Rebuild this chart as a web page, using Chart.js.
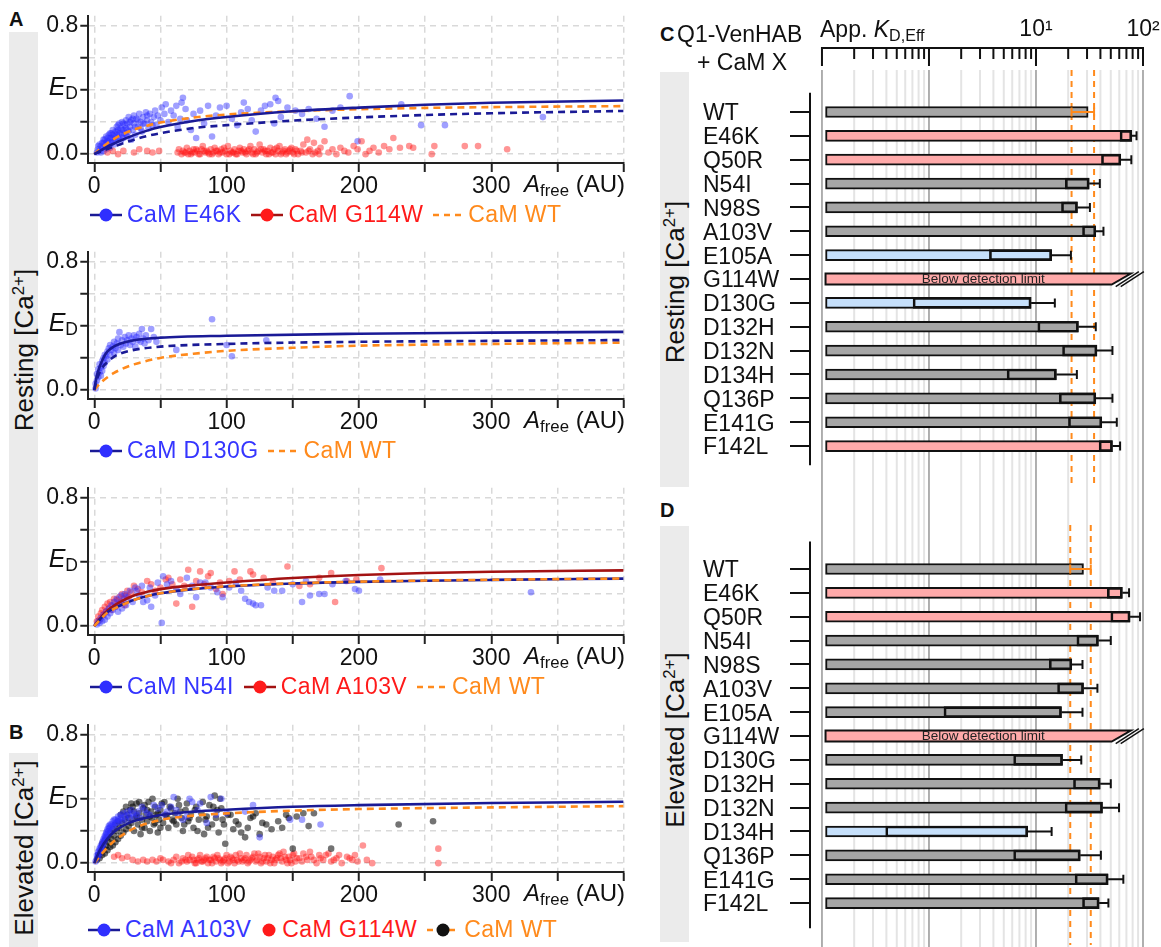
<!DOCTYPE html>
<html>
<head>
<title>CaM mutants - Q1-VenHAB FRET binding</title>
<script src="https://cdn.jsdelivr.net/npm/chart.js"></script>
<style>
  body { margin: 0; background: #fff; }
  #fig { position: relative; width: 1161px; height: 947px; overflow: hidden; background: #fff;
         font-family: 'Liberation Sans', Arial, sans-serif; color: #111; }
  canvas { position: absolute; }
  .t { position: absolute; white-space: nowrap; line-height: 1; }
  .band { position: absolute; background: #ebebeb; }
  .rot { position: absolute; white-space: nowrap; font-size: 26px; line-height: 1;
         transform: translate(-50%, -50%) rotate(-90deg); }
  .pl { position: absolute; font-weight: bold; font-size: 20px; }
  .lg { position: absolute; display: flex; align-items: center; font-size: 23px; letter-spacing: 0.4px;
        line-height: 1; white-space: nowrap; }
  .lg svg { margin-right: 5px; }
  .lg span { margin-right: 10px; }
  sub { font-size: 70%; vertical-align: -0.25em; }
  sup { font-size: 65%; vertical-align: 0.55em; }
</style>
</head>
<body>
<div id="fig">
  <!-- grey side bands -->
  <div class="band" style="left:9px;top:32px;width:29px;height:665px"></div>
  <div class="band" style="left:9px;top:753px;width:29px;height:194px"></div>
  <div class="band" style="left:660px;top:72px;width:29px;height:415px"></div>
  <div class="band" style="left:660px;top:526px;width:29px;height:416px"></div>
  <div class="rot" style="left:24px;top:350px">Resting [Ca<sup>2+</sup>]</div>
  <div class="rot" style="left:24px;top:848px">Elevated [Ca<sup>2+</sup>]</div>
  <div class="rot" style="left:675px;top:282px">Resting [Ca<sup>2+</sup>]</div>
  <div class="rot" style="left:675px;top:740px">Elevated [Ca<sup>2+</sup>]</div>

  <div class="pl" style="left:9px;top:8px">A</div>
  <div class="pl" style="left:9px;top:721px">B</div>
  <div class="pl" style="left:660px;top:23px">C</div>
  <div class="pl" style="left:660px;top:499px">D</div>

  <canvas id="a1" width="640" height="205" style="left:0;top:0"></canvas>
  <canvas id="a2" width="640" height="205" style="left:0;top:236px"></canvas>
  <canvas id="a3" width="640" height="205" style="left:0;top:472px"></canvas>
  <canvas id="b1" width="640" height="205" style="left:0;top:709px"></canvas>
  <canvas id="kdRest" width="511" height="490" style="left:650px;top:0"></canvas>
  <canvas id="kdElev" width="511" height="457" style="left:650px;top:490px"></canvas>

  <!-- y label E_D and x title for each scatter panel -->
  <div class="t" style="right:1083px;top:74px;font-size:25px"><i>E</i><sub>D</sub></div>
  <div class="t" style="right:1083px;top:310px;font-size:25px"><i>E</i><sub>D</sub></div>
  <div class="t" style="right:1083px;top:546px;font-size:25px"><i>E</i><sub>D</sub></div>
  <div class="t" style="right:1083px;top:783px;font-size:25px"><i>E</i><sub>D</sub></div>
  <div class="t" style="right:536px;top:172px;font-size:24px"><i>A</i><sub>free</sub> (AU)</div>
  <div class="t" style="right:536px;top:408px;font-size:24px"><i>A</i><sub>free</sub> (AU)</div>
  <div class="t" style="right:536px;top:644px;font-size:24px"><i>A</i><sub>free</sub> (AU)</div>
  <div class="t" style="right:536px;top:881px;font-size:24px"><i>A</i><sub>free</sub> (AU)</div>

  <!-- legends -->
  <div class="lg" style="left:90px;top:203px">
    <svg width="32" height="16"><line x1="0" y1="8" x2="32" y2="8" stroke="#1a1a96" stroke-width="2.5"/><circle cx="16" cy="8" r="6.5" fill="#2f2fff"/></svg><span style="color:#3535ff">CaM E46K</span>
    <svg width="32" height="16"><line x1="0" y1="8" x2="32" y2="8" stroke="#a31212" stroke-width="2.5"/><circle cx="16" cy="8" r="6.5" fill="#ff1a1a"/></svg><span style="color:#ff1a1a">CaM G114W</span>
    <svg width="30" height="16"><line x1="0" y1="8" x2="30" y2="8" stroke="#ff8a1c" stroke-width="2.5" stroke-dasharray="6 5"/></svg><span style="color:#ff8a1c">CaM WT</span>
  </div>
  <div class="lg" style="left:90px;top:439px">
    <svg width="32" height="16"><line x1="0" y1="8" x2="32" y2="8" stroke="#1a1a96" stroke-width="2.5"/><circle cx="16" cy="8" r="6.5" fill="#2f2fff"/></svg><span style="color:#3535ff">CaM D130G</span>
    <svg width="30" height="16"><line x1="0" y1="8" x2="30" y2="8" stroke="#ff8a1c" stroke-width="2.5" stroke-dasharray="6 5"/></svg><span style="color:#ff8a1c">CaM WT</span>
  </div>
  <div class="lg" style="left:90px;top:675px">
    <svg width="32" height="16"><line x1="0" y1="8" x2="32" y2="8" stroke="#1a1a96" stroke-width="2.5"/><circle cx="16" cy="8" r="6.5" fill="#2f2fff"/></svg><span style="color:#3535ff">CaM N54I</span>
    <svg width="32" height="16"><line x1="0" y1="8" x2="32" y2="8" stroke="#a31212" stroke-width="2.5"/><circle cx="16" cy="8" r="6.5" fill="#ff1a1a"/></svg><span style="color:#ff1a1a">CaM A103V</span>
    <svg width="30" height="16"><line x1="0" y1="8" x2="30" y2="8" stroke="#ff8a1c" stroke-width="2.5" stroke-dasharray="6 5"/></svg><span style="color:#ff8a1c">CaM WT</span>
  </div>
  <div class="lg" style="left:88px;top:918px">
    <svg width="32" height="16"><line x1="0" y1="8" x2="32" y2="8" stroke="#1a1a96" stroke-width="2.5"/><circle cx="16" cy="8" r="6.5" fill="#2f2fff"/></svg><span style="color:#3535ff">CaM A103V</span>
    <svg width="16" height="16"><circle cx="8" cy="8" r="6.5" fill="#ff1a1a"/></svg><span style="color:#ff1a1a">CaM G114W</span>
    <svg width="32" height="16"><line x1="0" y1="8" x2="32" y2="8" stroke="#ff8a1c" stroke-width="2.5" stroke-dasharray="6 5"/><circle cx="16" cy="8" r="6.5" fill="#111"/></svg><span style="color:#ff8a1c">CaM WT</span>
  </div>

  <!-- right panel header -->
  <div class="t" style="left:677px;top:23px;font-size:23px">Q1-VenHAB</div>
  <div class="t" style="left:697px;top:51px;font-size:23px">+ CaM X</div>
  <div class="t" style="left:820px;top:18px;font-size:23px">App. <i>K</i><sub>D,Eff</sub></div>
</div>

<script>
// ---------- scatter panels: [A_free, E_D] ----------
const a1E46K = [[2,0.01],[3,0.03],[3,0.05],[4,0.02],[4,0.06],[5,0.05],[5,0.01],[6,0.04],[6,0.07],[7,0.07],[7,0.02],[7,0.09],[8,0.05],[8,0.09],[9,0.03],[9,0.07],[9,0.11],[10,0.1],[10,0.05],[10,0.08],[11,0.08],[11,0.12],[11,0.06],[12,0.04],[12,0.1],[12,0.13],[13,0.07],[13,0.13],[13,0.1],[14,0.09],[14,0.15],[14,0.12],[15,0.06],[15,0.11],[16,0.14],[16,0.08],[16,0.1],[17,0.12],[17,0.17],[17,0.14],[18,0.1],[18,0.15],[18,0.18],[19,0.13],[19,0.19],[19,0.11],[20,0.08],[20,0.16],[21,0.12],[21,0.2],[21,0.15],[22,0.15],[22,0.1],[22,0.19],[23,0.18],[23,0.13],[24,0.21],[24,0.16],[24,0.12],[25,0.11],[25,0.19],[25,0.15],[26,0.23],[26,0.14],[27,0.17],[27,0.2],[28,0.21],[28,0.09],[29,0.15],[29,0.22],[30,0.24],[30,0.19],[31,0.12],[31,0.17],[32,0.22],[33,0.17],[33,0.21],[34,0.25],[35,0.2],[35,0.16],[36,0.14],[37,0.23],[37,0.19],[38,0.19],[39,0.26],[40,0.21],[40,0.24],[41,0.16],[42,0.25],[43,0.2],[44,0.18],[45,0.23],[46,0.27],[47,0.18],[48,0.24],[50,0.21],[51,0.29],[53,0.25],[54,0.31],[56,0.2],[58,0.27],[60,0.24],[62,0.3],[63,0.17],[65,0.22],[66,0.32],[67,0.35],[69,0.28],[70,0.21],[73,0.15],[75,0.25],[77,0.1],[80,0.27],[83,0.19],[86,0.3],[89,0.11],[92,0.24],[95,0.29],[100,0.3],[104,0.22],[108,0.18],[111,0.26],[113,0.32],[116,0.28],[119,0.21],[122,0.14],[126,0.27],[129,0.3],[133,0.31],[136,0.19],[137,0.35],[139,0.33],[141,0.23],[146,0.29],[152,0.27],[157,0.25],[162,0.28],[168,0.22],[174,0.17],[180,0.27],[186,0.29],[193,0.36],[199,0.08],[232,0.31],[247,0.18],[265,0.18],[339,0.23]];
const a1G114W = [[10,0.01],[14,0.02],[18,0.0],[22,0.02],[30,0.01],[34,0.03],[40,0.02],[44,0.01],[49,0.02],[63,0.01],[64,0.03],[66,0.0],[67,0.02],[68,0.01],[69,0.01],[70,0.04],[71,0.0],[72,0.02],[73,0.0],[74,0.01],[75,0.03],[76,0.01],[77,0.03],[78,0.02],[79,0.0],[80,0.0],[81,0.03],[82,0.05],[83,0.02],[84,0.01],[85,0.02],[86,0.01],[87,0.0],[88,0.03],[89,0.0],[90,0.01],[91,0.04],[92,0.02],[93,0.02],[94,0.0],[95,0.01],[96,0.03],[97,0.01],[98,0.04],[99,0.02],[100,0.0],[101,0.05],[102,0.0],[103,0.02],[104,0.01],[105,0.01],[106,0.03],[107,0.0],[108,0.0],[109,0.02],[110,0.04],[111,0.02],[112,0.01],[113,0.03],[114,0.01],[115,0.0],[116,0.02],[117,0.03],[118,0.05],[119,0.01],[120,0.0],[121,0.03],[122,0.0],[123,0.01],[124,0.02],[125,0.06],[126,0.03],[127,0.01],[128,0.03],[129,0.02],[130,0.0],[131,0.02],[132,0.0],[133,0.04],[134,0.01],[135,0.01],[136,0.03],[137,0.0],[138,0.04],[139,0.02],[140,0.05],[141,0.0],[142,0.01],[143,0.02],[144,0.03],[145,0.0],[146,0.01],[147,0.02],[148,0.03],[149,0.04],[150,0.01],[151,0.0],[152,0.03],[153,0.02],[154,0.0],[156,0.02],[157,0.01],[158,0.06],[160,0.01],[161,0.09],[162,0.02],[163,0.03],[165,0.0],[166,0.07],[167,0.01],[169,0.02],[170,0.0],[171,0.04],[174,0.08],[177,0.01],[180,0.03],[183,0.0],[186,0.04],[189,0.02],[192,0.01],[196,0.05],[199,0.03],[202,0.08],[205,0.0],[208,0.02],[211,0.04],[215,0.01],[219,0.05],[223,0.03],[226,0.1],[231,0.04],[238,0.05],[241,0.04],[255,0.0],[257,0.05],[280,0.05],[290,0.05],[312,0.03]];
const a1FitE46K = [[0,0],[5,0.024],[10,0.046],[15,0.066],[20,0.085],[30,0.118],[40,0.146],[50,0.168],[75,0.206],[100,0.231],[150,0.266],[200,0.289],[250,0.307],[300,0.319],[400,0.333]];
const a1FitE46Kb = [[0,0],[5,0.016],[10,0.032],[15,0.047],[20,0.062],[30,0.09],[40,0.113],[50,0.13],[75,0.162],[100,0.18],[150,0.208],[200,0.228],[250,0.243],[300,0.254],[400,0.268]];
const a1FitWT = [[0,0],[5,0.036],[10,0.068],[15,0.095],[20,0.118],[30,0.152],[40,0.177],[50,0.196],[75,0.227],[100,0.246],[150,0.266],[200,0.279],[250,0.287],[300,0.292],[400,0.298]];

const a2D130G = [[1,0.01],[1,0.04],[2,0.06],[2,0.1],[3,0.08],[3,0.13],[4,0.11],[4,0.16],[5,0.09],[5,0.14],[6,0.18],[6,0.12],[7,0.2],[7,0.15],[8,0.22],[8,0.17],[9,0.21],[10,0.24],[10,0.19],[11,0.26],[12,0.22],[12,0.28],[13,0.25],[14,0.27],[15,0.23],[15,0.3],[16,0.26],[17,0.29],[18,0.25],[18,0.32],[19,0.36],[20,0.28],[21,0.31],[22,0.27],[23,0.33],[24,0.29],[25,0.31],[26,0.34],[27,0.28],[28,0.32],[29,0.3],[30,0.34],[31,0.27],[32,0.33],[33,0.31],[34,0.35],[35,0.3],[36,0.38],[37,0.32],[38,0.29],[39,0.34],[41,0.31],[43,0.38],[45,0.33],[47,0.3],[62,0.25],[89,0.44],[100,0.28],[104,0.21],[130,0.31]];
const a2FitD130G = [[0,0],[1,0.05],[2,0.09],[3,0.12],[5,0.165],[7.5,0.21],[10,0.24],[15,0.272],[20,0.29],[30,0.31],[50,0.326],[100,0.338],[200,0.35],[300,0.357],[400,0.362]];
const a2FitD130Gb = [[0,0],[1,0.035],[2,0.065],[3,0.09],[5,0.125],[7.5,0.155],[10,0.175],[15,0.208],[20,0.228],[30,0.25],[50,0.27],[100,0.287],[200,0.3],[300,0.306],[400,0.311]];
const a2FitWT = [[0,0],[2,0.02],[5,0.047],[10,0.08],[15,0.107],[20,0.128],[30,0.16],[50,0.2],[75,0.226],[100,0.244],[150,0.263],[200,0.276],[300,0.287],[400,0.295]];

const a3N54I = [[2,0.01],[3,0.03],[4,0.02],[5,0.05],[6,0.03],[7,0.07],[8,0.04],[9,0.09],[10,0.06],[11,0.11],[12,0.08],[13,0.13],[14,0.1],[15,0.15],[16,0.12],[17,0.17],[18,0.09],[19,0.14],[20,0.19],[21,0.11],[22,0.16],[23,0.2],[24,0.13],[25,0.18],[27,0.22],[29,0.15],[31,0.24],[32,0.22],[34,0.19],[36,0.25],[37,0.15],[40,0.16],[42,0.24],[43,0.12],[46,0.19],[48,0.27],[51,0.02],[52,0.31],[55,0.26],[58,0.28],[62,0.23],[65,0.2],[70,0.3],[74,0.25],[77,0.18],[80,0.27],[84,0.27],[88,0.24],[93,0.21],[97,0.18],[102,0.24],[107,0.27],[111,0.22],[114,0.17],[117,0.15],[120,0.14],[122,0.13],[126,0.13],[131,0.24],[136,0.22],[142,0.22],[150,0.26],[157,0.15],[160,0.28],[163,0.19],[170,0.2],[174,0.2],[180,0.26],[190,0.28],[197,0.23],[200,0.22],[216,0.29],[330,0.21]];
const a3A103V = [[2,0.03],[3,0.06],[4,0.04],[5,0.08],[6,0.1],[7,0.07],[8,0.12],[9,0.09],[10,0.14],[11,0.11],[12,0.15],[13,0.1],[14,0.13],[15,0.17],[16,0.12],[17,0.16],[18,0.14],[19,0.18],[20,0.15],[21,0.2],[22,0.17],[23,0.13],[24,0.19],[25,0.22],[26,0.18],[28,0.21],[30,0.25],[33,0.23],[36,0.21],[40,0.28],[43,0.26],[46,0.22],[50,0.24],[54,0.29],[56,0.3],[59,0.26],[62,0.14],[65,0.29],[68,0.25],[71,0.35],[74,0.12],[77,0.28],[80,0.34],[83,0.26],[86,0.31],[88,0.33],[92,0.23],[95,0.27],[97,0.2],[102,0.28],[106,0.34],[110,0.29],[118,0.34],[120,0.32],[128,0.3],[135,0.27],[146,0.37],[155,0.25],[163,0.26],[170,0.3],[179,0.33],[182,0.15],[191,0.28],[198,0.29],[217,0.36]];
const a3FitA103V = [[0,0],[5,0.055],[10,0.098],[15,0.128],[20,0.152],[30,0.19],[40,0.213],[50,0.23],[75,0.254],[100,0.271],[150,0.299],[200,0.318],[250,0.33],[300,0.338],[400,0.346]];
const a3FitN54I = [[0,0],[5,0.048],[10,0.088],[15,0.11],[20,0.13],[30,0.163],[40,0.187],[50,0.204],[75,0.23],[100,0.246],[150,0.265],[200,0.275],[250,0.282],[300,0.287],[400,0.295]];
const a3FitWT = [[0,0],[5,0.045],[10,0.085],[15,0.108],[20,0.128],[30,0.162],[40,0.186],[50,0.204],[75,0.231],[100,0.247],[150,0.266],[200,0.276],[250,0.283],[300,0.288],[400,0.296]];

const bA103V = [[1,0.01],[2,0.03],[2,0.05],[3,0.04],[3,0.07],[3,0.05],[4,0.06],[4,0.09],[4,0.08],[5,0.08],[5,0.11],[5,0.1],[6,0.1],[6,0.13],[6,0.11],[7,0.12],[7,0.15],[7,0.14],[8,0.14],[8,0.17],[8,0.16],[9,0.16],[9,0.19],[9,0.18],[10,0.18],[10,0.21],[10,0.2],[11,0.2],[11,0.23],[11,0.22],[12,0.22],[12,0.24],[13,0.24],[13,0.2],[14,0.26],[14,0.23],[15,0.23],[15,0.27],[16,0.27],[16,0.25],[17,0.25],[18,0.29],[18,0.27],[19,0.26],[20,0.28],[20,0.3],[21,0.26],[22,0.31],[23,0.29],[24,0.27],[25,0.32],[26,0.3],[27,0.28],[28,0.33],[29,0.31],[30,0.29],[32,0.3],[33,0.32],[35,0.28],[36,0.35],[38,0.33],[40,0.31],[42,0.3],[45,0.36],[48,0.34],[51,0.36],[53,0.3],[55,0.32],[58,0.35],[60,0.41],[62,0.33],[63,0.3],[67,0.27],[70,0.29],[72,0.4],[74,0.38],[78,0.33],[80,0.37],[85,0.25],[88,0.41],[92,0.3],[96,0.4],[100,0.31],[114,0.32],[120,0.36],[125,0.16],[148,0.27],[157,0.27],[171,0.24]];
const bWT = [[2,0.02],[3,0.05],[4,0.03],[5,0.07],[6,0.05],[6,0.12],[7,0.09],[8,0.06],[8,0.14],[9,0.11],[10,0.08],[10,0.16],[11,0.13],[12,0.1],[12,0.19],[13,0.15],[14,0.11],[14,0.21],[15,0.17],[16,0.13],[16,0.24],[17,0.2],[18,0.15],[18,0.26],[19,0.22],[20,0.17],[20,0.3],[21,0.25],[22,0.19],[22,0.32],[23,0.27],[24,0.21],[24,0.35],[25,0.3],[26,0.23],[26,0.28],[27,0.33],[28,0.25],[28,0.37],[29,0.35],[30,0.2],[30,0.32],[31,0.28],[32,0.37],[32,0.29],[33,0.24],[34,0.31],[34,0.38],[35,0.18],[36,0.27],[36,0.22],[37,0.34],[38,0.22],[38,0.36],[39,0.3],[40,0.26],[40,0.33],[41,0.38],[42,0.2],[42,0.29],[43,0.32],[44,0.28],[44,0.4],[45,0.24],[46,0.35],[46,0.25],[47,0.3],[48,0.19],[48,0.31],[49,0.27],[50,0.33],[50,0.22],[51,0.37],[52,0.25],[53,0.38],[54,0.3],[55,0.29],[56,0.22],[57,0.35],[58,0.34],[59,0.27],[60,0.26],[61,0.31],[62,0.24],[63,0.4],[64,0.36],[65,0.32],[66,0.28],[67,0.2],[68,0.24],[69,0.33],[70,0.37],[71,0.26],[72,0.28],[73,0.3],[75,0.22],[76,0.33],[77,0.35],[78,0.2],[79,0.27],[81,0.31],[82,0.38],[83,0.18],[84,0.27],[85,0.29],[86,0.22],[87,0.36],[89,0.24],[90,0.35],[91,0.42],[92,0.28],[93,0.33],[94,0.19],[95,0.4],[96,0.34],[97,0.27],[98,0.24],[99,0.12],[101,0.3],[103,0.3],[105,0.21],[107,0.26],[109,0.24],[111,0.19],[114,0.16],[116,0.22],[118,0.28],[120,0.29],[122,0.31],[125,0.18],[127,0.25],[130,0.24],[134,0.21],[139,0.26],[142,0.22],[145,0.3],[147,0.28],[150,0.09],[153,0.29],[158,0.31],[162,0.23],[166,0.31],[179,0.09],[230,0.24],[256,0.26]];
const bG114W = [[15,0.04],[18,0.05],[21,0.03],[25,0.04],[29,0.02],[33,0.01],[37,0.02],[40,0.01],[44,0.02],[47,0.01],[50,0.03],[52,0.02],[56,0.01],[58,0.0],[60,0.02],[62,0.04],[64,0.0],[66,0.01],[67,0.03],[69,0.02],[70,0.01],[71,0.05],[72,0.02],[74,0.04],[75,0.02],[76,0.0],[77,0.0],[78,0.02],[79,0.03],[80,0.05],[81,0.01],[82,0.01],[83,0.02],[84,0.03],[85,0.04],[86,0.0],[87,0.02],[88,0.02],[89,0.0],[90,0.04],[91,0.03],[92,0.01],[93,0.05],[94,0.03],[95,0.02],[96,0.0],[97,0.01],[98,0.02],[99,0.03],[100,0.05],[101,0.0],[102,0.01],[103,0.04],[104,0.03],[105,0.02],[106,0.0],[107,0.05],[108,0.02],[109,0.01],[110,0.06],[111,0.03],[112,0.01],[113,0.02],[114,0.03],[115,0.05],[116,0.0],[117,0.01],[118,0.02],[119,0.03],[120,0.04],[121,0.06],[122,0.01],[123,0.02],[124,0.06],[125,0.04],[126,0.0],[127,0.01],[128,0.03],[129,0.05],[130,0.01],[131,0.03],[132,0.05],[133,0.0],[134,0.02],[135,0.04],[136,0.0],[137,0.02],[138,0.03],[139,0.05],[140,0.06],[141,0.03],[142,0.01],[143,0.07],[144,0.04],[145,0.02],[146,0.0],[147,0.04],[148,0.02],[149,0.0],[150,0.05],[151,0.06],[152,0.01],[153,0.03],[155,0.03],[157,0.01],[158,0.06],[160,0.04],[161,0.02],[163,0.07],[164,0.04],[166,0.02],[168,0.0],[170,0.05],[171,0.03],[173,0.02],[175,0.05],[177,0.06],[179,0.01],[181,0.02],[183,0.03],[185,0.05],[187,0.0],[191,0.04],[193,0.03],[195,0.02],[197,0.05],[199,0.01],[203,0.11],[206,0.02],[210,0.0],[260,0.09],[260,0.0]];
const bFitA103V = [[0,0],[2,0.04],[5,0.092],[10,0.153],[15,0.195],[20,0.224],[30,0.262],[50,0.299],[75,0.32],[100,0.332],[150,0.35],[200,0.36],[300,0.373],[400,0.381]];
const bFitWT = [[0,0],[5,0.052],[10,0.098],[15,0.138],[20,0.168],[30,0.216],[50,0.268],[75,0.295],[100,0.309],[150,0.326],[200,0.336],[300,0.346],[400,0.354]];

// ---------- apparent K_D,Eff (C: resting, D: elevated Ca2+) ----------
const mutants = ['WT','E46K','Q50R','N54I','N98S','A103V','E105A','G114W','D130G','D132H','D132N','D134H','Q136P','E141G','F142L'];
const restKd  = [30.7, 78.5, 62, 31.4, 24.4, 36.2, 14.0, null, 9.0, 24.9, 37.1, 15.5, 36.2, 41.2, 51.8];
const restLo  = [21.5, 61, 40.9, 18.8, 17.3, 27.2, 3.67, null, 0.71, 10.4, 17.7, 5.37, 16.5, 20.1, 38.9];
const restHi  = [34.9, 87, 77.8, 39.5, 31.9, 42.7, 21.2, null, 15.0, 36.2, 51.8, 24.1, 51.8, 56.9, 61.1];
const restCls = ['wt','up','up','ns','ns','ns','down','bdl','down','ns','ns','ns','ns','ns','up'];
const elevKd  = [27.8, 64.1, 75.7, 38.3, 21.6, 27.8, 17.3, null, 17.7, 39.8, 41.8, 8.36, 25.9, 47.2, 38.9];
const elevLo  = [20.9, 46.4, 50, 24.1, 13.3, 15.9, 1.38, null, 6.18, 22.4, 18.7, 0.394, 6.18, 23.2, 27.2];
const elevHi  = [32.5, 74.1, 93.8, 50, 27.2, 37.5, 27.2, null, 26.5, 50, 59.7, 14.0, 40.4, 65.5, 47.5];
const elevCls = ['wt','up','up','ns','ns','ns','ns','bdl','ns','ns','ns','down','ns','ns','ns'];
const bdlEdge = [51, 77];           // slanted end of the "below detection limit" bar
const barBase = 0.108;
const kdTicks = [];
[0.1, 1, 10].forEach(d => { for (let k = 1; k < 10; k++) kdTicks.push(+(k * d).toPrecision(3)); });
kdTicks.push(100);

Chart.defaults.font.family = "'Liberation Sans', Arial, sans-serif";
Chart.defaults.color = '#111';

const navy = '#1a1a96', orange = '#ff8a1c', darkRed = '#a31212';
const clsColor = { wt: '#a6a6a6', ns: '#a6a6a6', up: '#ffaaaa', down: '#c6e0fb', bdl: '#ffaaaa' };
const xy = arr => arr.map(p => ({ x: p[0], y: p[1] }));

function pts(arr, color, order) {
  return { type: 'scatter', data: xy(arr), pointRadius: 3.3, pointBorderWidth: 0,
           pointBackgroundColor: color, order: order };
}
function fit(arr, color, dash) {
  return { type: 'line', data: xy(arr), borderColor: color, borderWidth: 2.6, borderDash: dash || [],
           pointRadius: 0, cubicInterpolationMode: 'monotone', fill: false, order: 0 };
}

function edChart(id, datasets) {
  const axisGrid = { color: '#d9d9d9', lineWidth: 1.5, tickColor: '#222', tickWidth: 2, tickBorderDash: [] };
  return new Chart(document.getElementById(id), {
    type: 'scatter',
    data: { datasets },
    options: {
      responsive: false, animation: false,
      layout: { padding: { top: 13, right: 16.4, left: 0, bottom: 0 } },
      plugins: { legend: { display: false }, tooltip: { enabled: false } },
      scales: {
        x: {
          type: 'linear', min: -4.5, max: 400,
          ticks: { stepSize: 50, includeBounds: false, autoSkip: false, maxRotation: 0, font: { size: 23 }, padding: 1,
                   callback: v => (v % 100 === 0 && v < 400) ? String(v) : '' },
          grid: Object.assign({ tickLength: 9 }, axisGrid),
          border: { display: true, color: '#222', width: 2, dash: [6, 5] },
          afterFit: s => { s.height = 42; }
        },
        y: {
          min: -0.055, max: 0.859,
          ticks: { stepSize: 0.2, includeBounds: false, font: { size: 23 }, padding: 2,
                   callback: v => Math.abs(v) < 1e-9 ? '0.0' : (Math.abs(v - 0.8) < 1e-9 ? '0.8' : '') },
          grid: Object.assign({ tickLength: 8 }, axisGrid),
          border: { display: true, color: '#222', width: 2, dash: [6, 5] },
          afterFit: s => { s.width = 88.3; }
        }
      }
    }
  });
}

const blueP = 'rgba(45,45,255,0.45)', redP = 'rgba(255,20,20,0.45)', blackP = 'rgba(0,0,0,0.55)';

edChart('a1', [
  fit(a1FitE46K, navy), fit(a1FitE46Kb, navy, [7, 5]), fit(a1FitWT, orange, [7, 5]),
  pts(a1E46K, blueP, 2), pts(a1G114W, redP, 1)
]);
edChart('a2', [
  fit(a2FitD130G, navy), fit(a2FitD130Gb, navy, [7, 5]), fit(a2FitWT, orange, [7, 5]),
  pts(a2D130G, blueP, 1)
]);
edChart('a3', [
  fit(a3FitWT, orange, [7, 5]), fit(a3FitN54I, navy), fit(a3FitA103V, darkRed),
  pts(a3N54I, blueP, 1), pts(a3A103V, redP, 2)
]);
edChart('b1', [
  fit(bFitA103V, navy), fit(bFitWT, orange, [7, 5]),
  pts(bA103V, blueP, 1), pts(bWT, blackP, 2), pts(bG114W, redP, 3)
]);

// whiskers, grid, WT band, axis lines and the "below detection limit" bar
const kdDecor = {
  id: 'kdDecor',
  beforeDatasetsDraw(chart, args, o) {
    const { ctx, chartArea: a, scales: { x } } = chart;
    ctx.save();
    kdTicks.forEach(v => {
      const px = x.getPixelForValue(v);
      const major = Math.abs(Math.log10(v) - Math.round(Math.log10(v))) < 1e-6;
      ctx.strokeStyle = major ? '#9c9c9c' : '#e4e4e4';
      ctx.lineWidth = major ? 1.6 : 2;
      ctx.beginPath(); ctx.moveTo(px, a.top + o.gridTop); ctx.lineTo(px, a.bottom); ctx.stroke();
    });
    ctx.strokeStyle = orange; ctx.lineWidth = 2; ctx.setLineDash([6, 5]);
    [o.lo[0], o.hi[0]].forEach(v => {
      const px = x.getPixelForValue(v);
      ctx.beginPath(); ctx.moveTo(px, a.top + o.wtTop); ctx.lineTo(px, a.bottom - 2); ctx.stroke();
    });
    ctx.restore();
  },
  afterDatasetsDraw(chart, args, o) {
    const { ctx, chartArea: a, scales: { x, y } } = chart;
    ctx.save();
    o.kd.forEach((v, i) => {
      if (v == null) return;
      const yc = y.getPixelForValue(i);
      const wt = o.cls[i] === 'wt';
      const from = x.getPixelForValue(wt ? o.lo[i] : v), to = x.getPixelForValue(o.hi[i]);
      ctx.strokeStyle = wt ? orange : '#111';
      ctx.lineWidth = 2;
      ctx.beginPath();
      ctx.moveTo(from, yc); ctx.lineTo(to, yc);
      ctx.moveTo(to, yc - 4.5); ctx.lineTo(to, yc + 4.5);
      if (wt) { ctx.moveTo(from, yc - 4.5); ctx.lineTo(from, yc + 4.5); }
      ctx.stroke();
    });
    // G114W: below detection limit
    const gi = o.cls.indexOf('bdl');
    const yc = y.getPixelForValue(gi), h = 11;
    const x0 = x.getPixelForValue(barBase), xb = x.getPixelForValue(bdlEdge[0]), xt = x.getPixelForValue(bdlEdge[1]);
    ctx.beginPath();
    ctx.moveTo(x0, yc - h / 2); ctx.lineTo(xt, yc - h / 2); ctx.lineTo(xb, yc + h / 2); ctx.lineTo(x0, yc + h / 2); ctx.closePath();
    ctx.fillStyle = clsColor.bdl; ctx.fill();
    ctx.strokeStyle = '#111'; ctx.lineWidth = 2; ctx.stroke();
    ctx.lineWidth = 1.5;
    [6, 11].forEach(dx => {
      ctx.beginPath();
      ctx.moveTo(xb + dx - 2, yc + h / 2 + 2); ctx.lineTo(xt + dx + 2, yc - h / 2 - 2); ctx.stroke();
    });
    ctx.fillStyle = '#222'; ctx.font = "13.5px 'Liberation Sans', Arial, sans-serif";
    ctx.textAlign = 'center'; ctx.textBaseline = 'middle';
    ctx.fillText('Below detection limit', (x0 + xt) / 2 + 5, yc + 0.5);
    // category axis line
    ctx.strokeStyle = '#111'; ctx.lineWidth = 2;
    ctx.beginPath(); ctx.moveTo(a.left, y.getPixelForValue(o.axFrom)); ctx.lineTo(a.left, y.getPixelForValue(o.axTo)); ctx.stroke();
    // top log axis with inward ticks
    if (o.topAxis) {
      const l = x.getPixelForValue(0.1), r = x.getPixelForValue(100);
      ctx.beginPath(); ctx.moveTo(l, a.top); ctx.lineTo(r, a.top);
      kdTicks.forEach(v => {
        const px = x.getPixelForValue(v);
        const major = Math.abs(Math.log10(v) - Math.round(Math.log10(v))) < 1e-6;
        ctx.moveTo(px, a.top - 1); ctx.lineTo(px, a.top + (major ? 18 : 11));
      });
      ctx.stroke();
    }
    ctx.restore();
  }
};

function kdChart(id, kd, lo, hi, cls, opt) {
  const main = [], inner = [];
  kd.forEach((v, i) => {
    if (v == null) return;
    main.push({ x: [barBase, v], y: i, c: cls[i] });
    if (cls[i] !== 'wt') inner.push({ x: [lo[i], v], y: i });
  });
  return new Chart(document.getElementById(id), {
    type: 'bar',
    data: { datasets: [
      { data: main, backgroundColor: c => clsColor[c.raw.c], borderColor: '#111', borderWidth: 2,
        borderSkipped: false, barThickness: 11, grouped: false, order: 2 },
      { data: inner, backgroundColor: 'rgba(0,0,0,0)', borderColor: '#111', borderWidth: 2,
        borderSkipped: false, barThickness: 11, grouped: false, order: 1 }
    ] },
    options: {
      indexAxis: 'y', responsive: false, animation: false,
      layout: { padding: { left: 53, right: 18, top: 0, bottom: 0 } },
      plugins: { legend: { display: false }, tooltip: { enabled: false },
                 kdDecor: Object.assign({ kd, lo, hi, cls }, opt) },
      scales: {
        x: {
          type: 'logarithmic', position: 'top', min: 0.0773, max: 100,
          afterBuildTicks: s => { s.ticks = kdTicks.map(v => ({ value: v })); },
          ticks: { display: opt.topAxis, autoSkip: false, maxRotation: 0, font: { size: 23 }, padding: 5,
                   callback: v => Math.abs(v - 10) < 1e-6 ? '10¹' : (Math.abs(v - 100) < 1e-6 ? '10²' : '') },
          grid: { display: false, drawTicks: false },
          border: { display: false },
          afterFit: s => { s.height = opt.topH; s.paddingLeft = 0; s.paddingRight = 0; }
        },
        y: {
          type: 'linear', reverse: true, min: opt.ymin, max: opt.ymax, offset: false,
          afterBuildTicks: s => { s.ticks = mutants.map((m, i) => ({ value: i })); },
          ticks: { autoSkip: false, crossAlign: 'far', font: { size: 23 }, padding: 6, labelOffset: 2,
                   callback: v => mutants[v] },
          grid: { drawOnChartArea: false, offset: false, color: '#111', lineWidth: 2, tickLength: 20 },
          border: { display: false },
          afterFit: s => { s.width = 107; s.paddingTop = 0; s.paddingBottom = 0; }
        }
      }
    },
    plugins: [kdDecor]
  });
}

kdChart('kdRest', restKd, restLo, restHi, restCls,
        { topAxis: true, topH: 48, ymin: -2.68, ymax: 15.84, gridTop: 22, wtTop: 22, axFrom: -0.8, axTo: 14.8 });
kdChart('kdElev', elevKd, elevLo, elevHi, elevCls,
        { topAxis: false, topH: 0, ymin: -3.31, ymax: 15.84, gridTop: 0, wtTop: 35, axFrom: -1.15, axTo: 15.05 });
</script>
</body>
</html>
